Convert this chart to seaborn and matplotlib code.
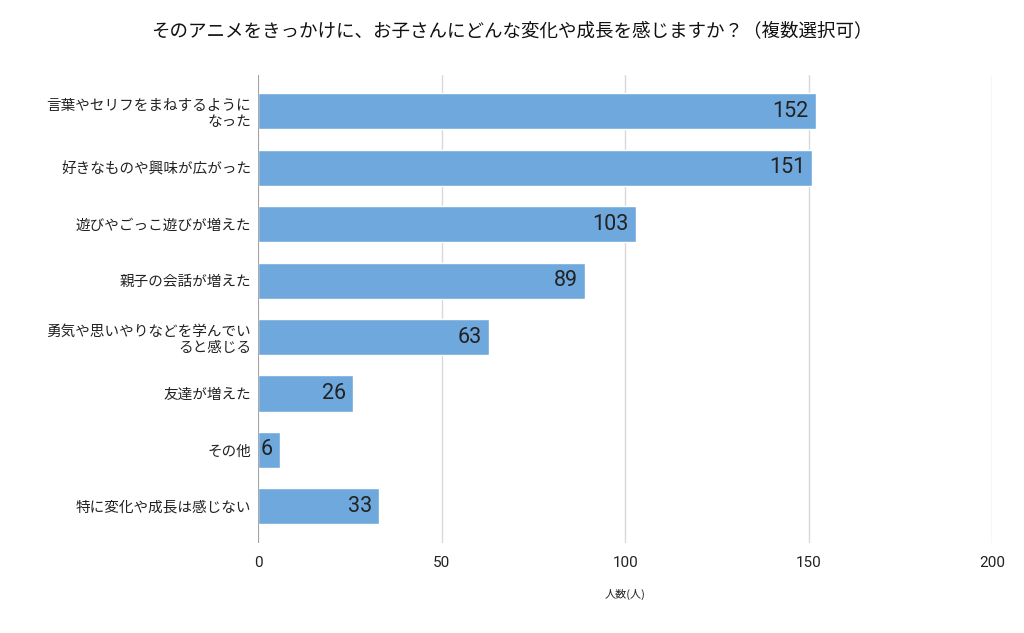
import matplotlib
matplotlib.use('Agg')
import matplotlib.pyplot as plt
import pandas as pd
import seaborn as sns

# データ
labels = ['言葉やセリフをまねするように\nなった', '好きなものや興味が広がった', '遊びやごっこ遊びが増えた',
          '親子の会話が増えた', '勇気や思いやりなどを学んでい\nると感じる', '友達が増えた',
          'その他', '特に変化や成長は感じない']
counts = [152, 151, 103, 89, 63, 26, 6, 33]
xticks = [0, 50, 100, 150, 200]

df = pd.DataFrame({'label': labels, 'count': counts})

sns.set_theme(style='white')
plt.rcParams['font.family'] = ['Noto Sans CJK JP', 'DejaVu Sans']

fig = plt.figure(figsize=(10.24, 6.33), dpi=100)
ax = fig.add_axes([0.252, 0.142, 0.717, 0.74])

sns.barplot(data=df, x='count', y='label', color='#6fa8dc', saturation=1,
            width=0.64, ax=ax, zorder=3)

for i, v in enumerate(counts):
    ax.text(v - 2, i, str(v), ha='right', va='center', fontsize=15.5,
            family='Roboto', color='#222222', zorder=4)

ax.set_xlim(0, 200)
ax.set_ylim(7.65, -0.65)
ax.set_xticks(xticks)
ax.tick_params(axis='x', labelsize=11, length=0, pad=9, colors='#222222')
for t in ax.get_xticklabels():
    t.set_family('Roboto')
ax.tick_params(axis='y', labelsize=10.5, length=0, pad=5, colors='#222222')
for t in ax.get_yticklabels():
    t.set_multialignment('right')
ax.grid(axis='x', color='#d9d9d9', linewidth=1, zorder=0)
ax.axvline(0, color='#999999', linewidth=1.2, zorder=5)
for s in ax.spines.values():
    s.set_visible(False)

ax.set_xlabel('人数(人)', fontsize=8, labelpad=14, color='#222222')
ax.set_ylabel('')
fig.suptitle('そのアニメをきっかけに、お子さんにどんな変化や成長を感じますか？（複数選択可）',
             fontsize=13.3, x=0.500, y=0.965, color='#111111')

fig.savefig('out.png', dpi=100)
